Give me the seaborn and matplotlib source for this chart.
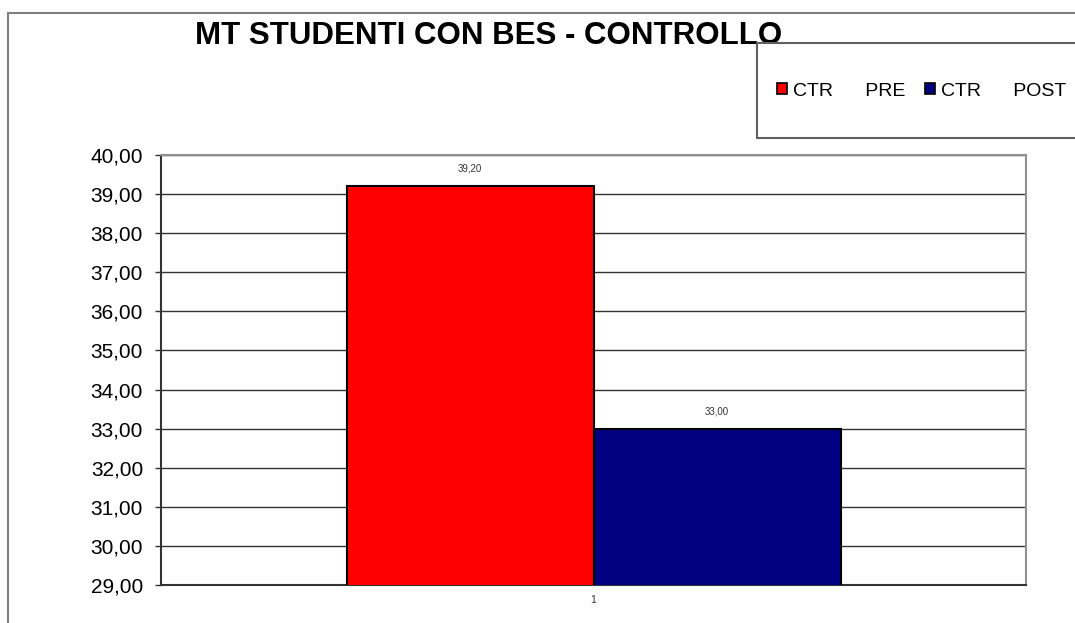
import pandas as pd
import seaborn as sns
import matplotlib.pyplot as plt
from matplotlib.patches import Rectangle
from matplotlib.ticker import FuncFormatter, MultipleLocator

# chart data
categories = ['1']
series = ['CTR      PRE', 'CTR      POST']
values = [39.20, 33.00]
colors = ['#FF0000', '#000080']

df = pd.DataFrame({'cat': categories * len(series), 'serie': series, 'valore': values})

sns.set_style('white')
plt.rcParams['font.family'] = ['Liberation Sans', 'DejaVu Sans']
plt.rcParams['text.color'] = 'black'

fig = plt.figure(figsize=(10.75, 6.23), dpi=100)
ax = fig.add_axes([0.1498, 0.061, 0.8047, 0.6902])

sns.barplot(data=df, x='cat', y='valore', hue='serie', palette=colors,
            saturation=1, width=0.571, gap=0, edgecolor='black', linewidth=1.5,
            legend=False, ax=ax, zorder=3)

ax.set_xlim(-0.5, 0.5)
ax.set_ylim(29, 40)
ax.yaxis.set_major_locator(MultipleLocator(1))
ax.yaxis.set_major_formatter(FuncFormatter(lambda v, p: f'{v:.2f}'.replace('.', ',')))
ax.grid(axis='y', color='#333333', linewidth=1, zorder=0)
ax.set_xlabel('')
ax.set_ylabel('')
ax.tick_params(axis='y', labelsize=15, length=4.3, width=1, color='#333333',
               labelcolor='black', direction='out', left=True, pad=8.6)
ax.tick_params(axis='x', labelsize=7.5, length=0, pad=7, colors='#333333')

for side in ['top', 'right']:
    ax.spines[side].set_color('#909090')
    ax.spines[side].set_linewidth(1.5)
for side in ['left', 'bottom']:
    ax.spines[side].set_color('#333333')
    ax.spines[side].set_linewidth(1.5)

for cont, v in zip(ax.containers, values):
    ax.bar_label(cont, labels=[f'{v:.2f}'.replace('.', ',')], padding=9, fontsize=7, color='#333333')

# outer chart border (only left and top visible)
fig.patches.append(Rectangle((8 / 1075, -0.1), 1.2, (623 - 13) / 623 + 0.1,
                             transform=fig.transFigure, fill=False,
                             edgecolor='#808080', linewidth=1.5))

fig.text(489 / 1075, 1 - 36 / 623, 'MT STUDENTI CON BES - CONTROLLO',
         ha='center', va='center', fontsize=22.5, fontweight='bold', color='black')

# legend box
fig.patches.append(Rectangle((757 / 1075, 1 - 138 / 623), 0.5, 95 / 623,
                             transform=fig.transFigure, facecolor='white',
                             edgecolor='#606060', linewidth=1.5, zorder=5))
handles = [Rectangle((0, 0), 1, 1, facecolor=c, edgecolor='black', linewidth=1.2) for c in colors]
leg = fig.legend(handles, series, loc='center left', bbox_to_anchor=(777 / 1075, 1 - 91 / 623),
                 ncol=2, frameon=False, fontsize=14, handlelength=0.52, handleheight=0.52,
                 handletextpad=0.28, columnspacing=1.05, borderpad=0, borderaxespad=0)
leg.set_zorder(6)

fig.savefig('out.png', dpi=100)
